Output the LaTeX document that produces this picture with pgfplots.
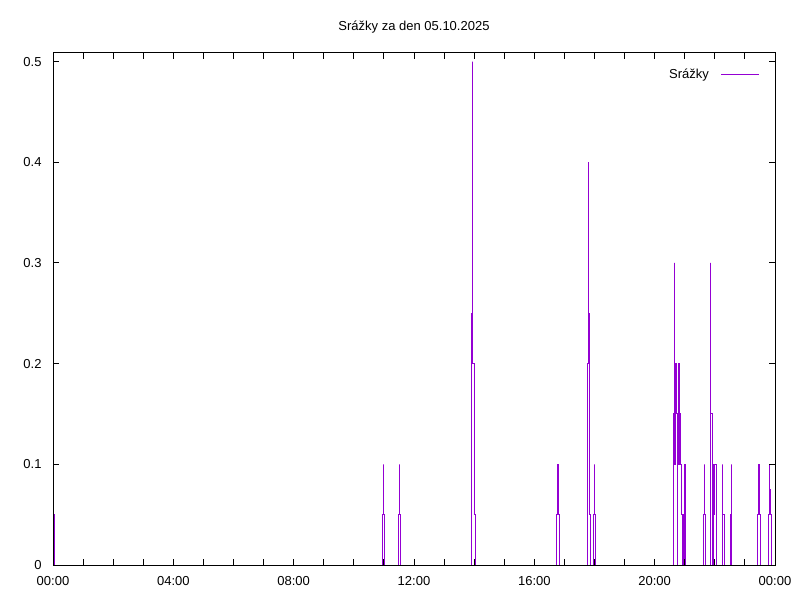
\documentclass[border=0pt]{standalone}
\usepackage{fontspec}
\setmainfont{Liberation Sans}
\usepackage{pgfplots}
\pgfplotsset{compat=1.18}
\definecolor{srazky}{HTML}{9400D3}

\begin{document}
\begin{tikzpicture}[font=\fontsize{13bp}{15bp}\selectfont]
\path[use as bounding box] (-53bp,-35bp) rectangle (747bp,565bp);
\begin{axis}[
  at={(0,0)}, anchor=south west,
  scale only axis, width=722bp, height=512bp,
  xmin=0, xmax=24, ymin=0, ymax=0.5085,
  xtick={0,1,...,24},
  xticklabels={00:00,,,,04:00,,,,08:00,,,,12:00,,,,16:00,,,,20:00,,,,00:00},
  ytick={0,0.1,0.2,0.3,0.4,0.5},
  yticklabels={0,0.1,0.2,0.3,0.4,0.5},
  /pgf/number format/assume math mode=true,
  tick align=inside, major tick length=6bp,
  tick style={black, line width=1bp},
  axis line style={line width=1bp},
  yticklabel style={xshift=-8bp},
  xticklabel style={yshift=-8bp},
  axis on top,
  title={Srážky za den 05.10.2025},
  title style={at={(0.5,1)}, anchor=base, yshift=17bp},
  legend style={draw=none, fill=none, at={(1,1)}, anchor=north east,
    xshift=-12bp, yshift=-12bp, column sep=10bp},
  legend cell align=right,
  legend plot pos=right,
  legend image code/.code={\draw[#1] (0bp,0bp) -- (38bp,0bp);},
]
\addplot[color=srazky, line width=1bp, no markers] coordinates {
(0,0.1)(0.023,0.1)(0.023,0.05)(0.066,0.05)(0.066,0)
(10.967,0)(10.967,0.05)(11.0,0.05)(11.0,0.1)(11.0,0.05)(11.033,0.05)(11.033,0)
(11.5,0)(11.5,0.05)(11.533,0.05)(11.533,0.1)(11.533,0.05)(11.567,0.05)(11.567,0)
(13.911,0)(13.911,0.25)(13.933,0.25)(13.933,0.5)(13.933,0.4)(13.955,0.4)(13.955,0.2)(14.0,0.2)(14.0,0.05)(14.033,0.05)(14.033,0)
(16.733,0)(16.733,0.05)(16.767,0.05)(16.767,0.1)(16.8,0.1)(16.8,0.05)(16.833,0.05)(16.833,0)
(17.767,0)(17.767,0.2)(17.8,0.2)(17.8,0.4)(17.8,0.25)(17.822,0.25)(17.822,0.2)(17.844,0.2)(17.844,0.05)(17.867,0.05)(17.867,0)
(17.967,0)(17.967,0.05)(18.0,0.05)(18.0,0.1)(18.0,0.05)(18.033,0.05)(18.033,0)
(20.61,0)(20.61,0.15)(20.645,0.15)(20.645,0.3)(20.645,0.1)(20.66,0.1)(20.66,0.2)(20.675,0.2)(20.675,0.1)(20.69,0.1)(20.69,0.2)(20.72,0.2)(20.72,0.15)(20.755,0.15)(20.755,0)
(20.775,0)(20.775,0.1)(20.79,0.1)(20.79,0.2)(20.805,0.2)(20.805,0.1)(20.82,0.1)(20.82,0.2)(20.835,0.2)(20.835,0.15)(20.855,0.15)(20.855,0.1)(20.89,0.1)(20.89,0.05)(20.92,0.05)(20.92,0)
(20.935,0)(20.935,0.05)(20.955,0.05)(20.955,0)(20.99,0)(20.99,0.1)(21.02,0.1)(21.02,0)
(21.61,0)(21.61,0.05)(21.64,0.05)(21.64,0.1)(21.64,0.05)(21.675,0.05)(21.675,0)
(21.84,0)(21.84,0.15)(21.87,0.15)(21.87,0.3)(21.87,0.15)(21.91,0.15)(21.91,0)
(21.94,0)(21.94,0.1)(21.955,0.1)(21.955,0.05)(21.97,0.05)(21.97,0.1)(21.985,0.1)(21.985,0.05)(22.0,0.05)(22.0,0.1)(22.04,0.1)(22.04,0.05)(22.07,0.05)(22.07,0)
(22.24,0)(22.24,0.05)(22.27,0.05)(22.27,0.1)(22.27,0.05)(22.31,0.05)(22.31,0)
(22.51,0)(22.51,0.05)(22.54,0.05)(22.54,0.1)(22.54,0.05)(22.57,0.05)(22.57,0)
(23.43,0)(23.43,0.05)(23.45,0.05)(23.45,0.1)(23.50,0.1)(23.50,0.05)(23.53,0.05)(23.53,0)
(23.80,0)(23.80,0.05)(23.82,0.05)(23.82,0.1)(23.83,0.1)(23.83,0.075)(23.86,0.075)(23.86,0.05)(23.87,0.05)(23.87,0.025)(23.9,0.025)(23.9,0)
(24,0)
};
\addlegendentry{Srážky}
\end{axis}
\end{tikzpicture}
\end{document}
